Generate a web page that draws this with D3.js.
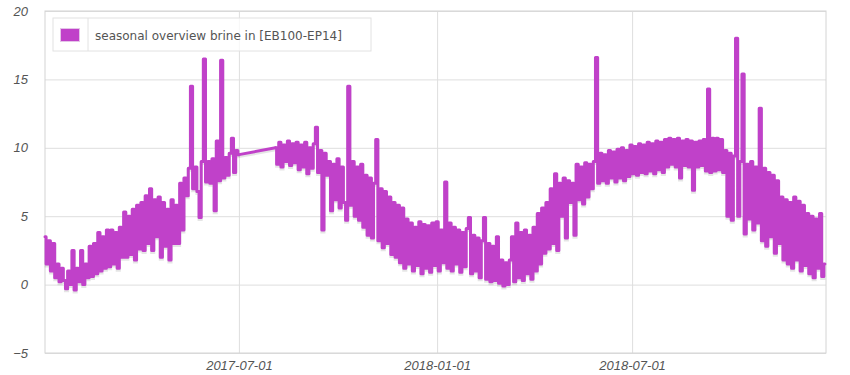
<!DOCTYPE html>
<html>
<head>
<meta charset="utf-8">
<script src="https://cdn.jsdelivr.net/npm/d3@7"></script>
<style>
  body { margin: 0; background: #fff; }
  .tick text { font-family: "Liberation Sans", Arial, sans-serif; font-style: italic; font-size: 13px; fill: #545454; }
</style>
</head>
<body>
<div id="viz-1"></div>
<script>
const containerId = 'viz-1';

const seriesName = "seasonal overview brine in [EB100-EP14]";
const yTicks = [-5, 0, 5, 10, 15, 20];
const xTicks = ["2017-07-01", "2018-01-01", "2018-07-01"];
const stepDays = 2;

// first stretch, one reading every 2 days from 2017-01-02
const seg1Start = "2017-01-02";
const seg1Values = [
  3.5, 1.5, 3.2, 1.0, 3.0, 0.5, 1.5, 0.2, 1.2, 0.3,
  -0.3, 1.0, 0.0, 2.5, -0.4, 1.2, 0.2, 2.5, 0.0, 1.5,
  0.5, 2.8, 0.6, 3.0, 0.8, 3.8, 1.0, 3.5, 1.2, 4.0,
  1.3, 4.0, 1.5, 3.8, 1.2, 4.2, 2.0, 5.3, 2.0, 5.0,
  2.2, 5.5, 1.8, 5.8, 2.6, 6.0, 2.5, 6.5, 3.0, 7.0,
  2.5, 6.2, 3.5, 6.4, 2.0, 6.0, 2.8, 5.5, 1.8, 6.2,
  3.0, 5.8, 3.0, 7.4, 4.0, 7.8, 6.5, 8.5, 14.5, 7.0,
  8.6, 6.8, 4.9, 9.0, 16.5, 7.5, 9.0, 7.4, 9.2, 5.4,
  10.5, 7.6, 16.4, 7.8, 9.3, 8.0, 9.6, 10.7, 8.2, 9.8,
  9.5
];

// second stretch after the data gap, from 2017-08-04
const seg2Start = "2017-08-04";
const seg2Values = [
  10.0, 8.8, 10.4, 8.6, 10.2, 9.0, 10.5, 8.7, 10.3, 8.9,
  10.4, 8.4, 10.2, 8.6, 10.4, 8.1, 10.0, 8.5, 10.3, 11.5,
  8.2, 9.8, 4.0, 9.6, 8.0, 9.0, 5.4, 8.8, 6.2, 9.2,
  5.6, 8.6, 6.0, 4.7, 14.5, 5.8, 9.0, 5.0, 8.6, 4.7,
  8.8, 4.2, 8.0, 3.6, 7.8, 3.4, 7.4, 10.6, 3.2, 7.0,
  2.7, 6.8, 3.0, 6.4, 2.2, 6.0, 2.0, 5.8, 1.6, 5.6,
  1.2, 4.8, 1.5, 4.5, 1.0, 4.2, 1.4, 4.6, 0.8, 4.4,
  1.2, 4.3, 0.9, 4.5, 1.4, 4.6, 1.0, 4.0, 1.6, 7.5,
  1.2, 4.5, 1.0, 4.2, 1.5, 4.0, 0.9, 3.8, 1.3, 4.1,
  4.9, 0.8, 3.6, 1.0, 3.4, 0.5, 3.2, 4.9, 0.4, 3.0,
  0.2, 2.8, 0.3, 3.5, 0.1, 1.8, -0.1, 1.6, 0.0, 1.8,
  3.5, 0.2, 4.5, 0.5, 3.8, 0.3, 4.0, 0.8, 3.6, 0.4,
  4.2, 1.0, 5.2, 1.5, 5.6, 2.3, 6.0, 2.6, 7.0, 3.0,
  8.1, 2.5, 7.4, 5.0, 7.8, 3.4, 7.6, 6.0, 7.4, 3.6,
  8.8, 6.2, 8.6, 5.9, 8.9, 6.4, 8.8, 7.0, 9.0, 16.6,
  7.4, 9.6, 7.6, 9.5, 7.4, 9.8, 7.8, 9.7, 7.5, 9.9,
  7.8, 10.0, 7.6, 9.8, 7.9, 10.2, 8.1, 10.1, 8.0, 10.3,
  8.2, 10.2, 8.1, 10.4, 8.3, 10.3, 8.1, 10.5, 8.4, 10.4,
  8.2, 10.6, 8.6, 10.7, 8.8, 10.6, 8.6, 10.7, 7.8, 10.5,
  8.7, 10.6, 8.6, 10.5, 6.9, 10.4, 8.6, 10.5, 8.7, 10.6,
  8.3, 14.3, 8.2, 10.7, 8.3, 10.7, 8.4, 10.6, 8.2, 9.8,
  5.0, 9.6, 4.7, 9.4, 18.0, 5.0, 9.0, 15.4, 3.7, 8.8,
  4.8, 9.0, 4.0, 8.6, 4.5, 12.9, 3.2, 8.5, 2.8, 8.2,
  3.5, 8.0, 2.3, 7.6, 3.0, 6.4, 1.8, 6.2, 1.5, 6.0,
  1.2, 6.4, 1.8, 6.1, 1.0, 5.8, 1.4, 5.2, 0.8, 5.0,
  0.5, 4.8, 1.2, 5.2, 0.6, 1.5
];

function main() {
  const parse = d3.timeParse("%Y-%m-%d");
  const fmt = d3.timeFormat("%Y-%m-%d");

  function toPoints(start, values) {
    const t0 = parse(start);
    return values.map((v, i) => ({ date: d3.timeDay.offset(t0, i * stepDays), value: v }));
  }
  const seg1 = toPoints(seg1Start, seg1Values);
  const seg2 = toPoints(seg2Start, seg2Values);

  const width = 850;
  const height = 375;
  const margin = { top: 11, right: 24, bottom: 22, left: 45 };
  const innerWidth = width - margin.left - margin.right;
  const innerHeight = height - margin.top - margin.bottom;

  const svg = d3.select("#" + containerId).append("svg")
    .attr("width", width)
    .attr("height", height)
    .style("display", "block");

  svg.append("rect").attr("width", width).attr("height", height).attr("fill", "#fff");

  const g = svg.append("g").attr("transform", `translate(${margin.left},${margin.top})`);

  // Échelles
  const x = d3.scaleTime()
    .domain([parse("2017-01-02"), parse("2018-12-28")])
    .range([0, innerWidth]);
  const y = d3.scaleLinear()
    .domain([-5, 20])
    .range([innerHeight, 0]);

  // grille
  g.append("g")
    .call(d3.axisLeft(y).tickValues(yTicks).tickSize(-innerWidth).tickFormat(""))
    .call(s => s.select(".domain").remove())
    .call(s => s.selectAll("line").attr("stroke", "#dedede"));
  g.append("g")
    .attr("transform", `translate(0,${innerHeight})`)
    .call(d3.axisBottom(x).tickValues(xTicks.map(parse)).tickSize(innerHeight).tickFormat(""))
    .call(s => s.select(".domain").remove())
    .call(s => s.selectAll("line").attr("stroke", "#dedede").attr("transform", `translate(0,${-innerHeight})`));

  g.append("rect")
    .attr("x", 0).attr("y", 0)
    .attr("width", innerWidth).attr("height", innerHeight)
    .attr("fill", "none")
    .attr("stroke", "#d4d4d4");

  // Axes
  g.append("g")
    .call(d3.axisLeft(y).tickValues(yTicks).tickSize(0).tickPadding(17))
    .call(s => s.select(".domain").remove());
  g.append("g")
    .attr("transform", `translate(0,${innerHeight})`)
    .call(d3.axisBottom(x).tickValues(xTicks.map(parse)).tickSize(0).tickPadding(8).tickFormat(fmt))
    .call(s => s.select(".domain").remove());

  // dense readings drawn as steps, the gap bridged by a straight segment
  const stepLine = d3.line()
    .x(d => x(d.date))
    .y(d => y(d.value))
    .curve(d3.curveStep);
  const straight = d3.line()
    .x(d => x(d.date))
    .y(d => y(d.value));

  const bridge = [seg1[seg1.length - 1], seg2[0]];
  const paths = [stepLine(seg1), straight(bridge), stepLine(seg2)];

  // ombre
  g.selectAll("path.shadow")
    .data(paths)
    .join("path")
    .attr("class", "shadow")
    .attr("fill", "none")
    .attr("stroke", "rgba(0,0,0,0.1)")
    .attr("stroke-width", 3)
    .attr("transform", "translate(0,2)")
    .attr("d", d => d);

  g.selectAll("path.series")
    .data(paths)
    .join("path")
    .attr("class", "series")
    .attr("fill", "none")
    .attr("stroke", "#c041c9")
    .attr("stroke-width", 3)
    .attr("stroke-linejoin", "round")
    .attr("stroke-linecap", "round")
    .attr("d", d => d);

  // légende
  const lg = svg.append("g").attr("transform", "translate(53,18)");
  lg.append("rect")
    .attr("width", 318).attr("height", 33)
    .attr("fill", "rgba(255,255,255,0.75)")
    .attr("stroke", "#e2e2e2");
  lg.append("line")
    .attr("x1", 35).attr("x2", 35).attr("y1", 0).attr("y2", 33)
    .attr("stroke", "#e2e2e2");
  lg.append("rect")
    .attr("x", 7.5).attr("y", 10.5).attr("width", 19).attr("height", 13)
    .attr("fill", "#c041c9")
    .attr("stroke", "#e4c4e8");
  lg.append("text")
    .attr("x", 42).attr("y", 22)
    .attr("font-family", "'DejaVu Sans', Verdana, sans-serif")
    .attr("font-size", 12)
    .attr("fill", "#545454")
    .text(seriesName);
}

main();
</script>
</body>
</html>
